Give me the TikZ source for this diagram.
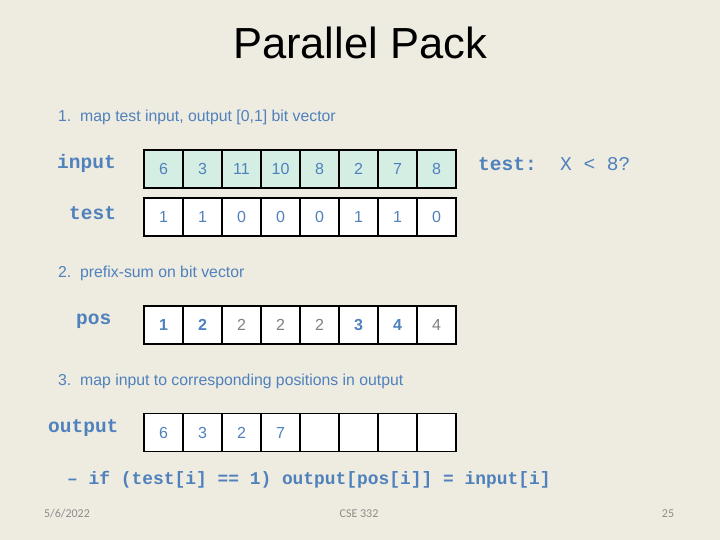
\documentclass[tikz,border=0pt]{standalone}
\usepackage{fontspec}
\setmainfont{Liberation Sans}
\setmonofont{Liberation Mono}
\newfontfamily\footfont{Carlito}
\definecolor{bg}{RGB}{238,235,224}
\definecolor{tblue}{RGB}{79,129,189}
\definecolor{cellgreen}{RGB}{213,238,227}
\definecolor{grayno}{RGB}{128,128,128}
\definecolor{footgray}{RGB}{140,140,140}
\tikzset{
  cell/.style={draw=black, line width=1.6pt, minimum width=39pt, minimum height=38pt, inner sep=0pt, font=\fontsize{16}{16}\selectfont, text=tblue},
  incell/.style={cell, fill=cellgreen},
  wcell/.style={cell, fill=white},
  steplabel/.style={anchor=west, inner sep=0pt, font=\fontsize{15.8}{16}\selectfont, text=tblue},
  rowlabel/.style={anchor=west, inner sep=0pt, font=\ttfamily\bfseries\fontsize{19.5}{20}\selectfont, text=tblue},
  footlabel/.style={inner sep=0pt, font=\footfont\fontsize{12}{12}\selectfont, text=footgray}
}
\begin{document}
\begin{tikzpicture}[x=1pt,y=-1pt]
\fill[bg] (0,0) rectangle (720,540);
\useasboundingbox (0,0) rectangle (720,540);
\node[inner sep=0pt, font=\fontsize{43.5}{44}\selectfont] (title) at (360,43) {Parallel Pack};
\node[steplabel] (s1) at (58,117) {1.\ \ map test input, output [0,1] bit vector};
\node[steplabel] (s2) at (58,273) {2.\ \ prefix-sum on bit vector};
\node[steplabel] (s3) at (58,381) {3.\ \ map input to corresponding positions in output};
\node[rowlabel] (linput) at (57,163) {input};
\node[rowlabel] (ltest) at (69,213) {test};
\node[rowlabel] (lpos) at (76,321) {pos};
\node[rowlabel] (loutput) at (48,428) {output};
\node[anchor=west, inner sep=0pt, text=tblue, font=\ttfamily\fontsize{19.5}{20}\selectfont] (cond) at (478,164) {\textbf{test:}\ \ X < 8?};
\foreach \v [count=\i from 0] in {6,3,11,10,8,2,7,8}
  \node[incell] (in\i) at (163.5+39*\i,169) {\v};
\foreach \v [count=\i from 0] in {1,1,0,0,0,1,1,0}
  \node[wcell] (t\i) at (163.5+39*\i,217) {\v};
\foreach \v/\c [count=\i from 0] in {1/tblue,2/tblue,2/grayno,2/grayno,2/grayno,3/tblue,4/tblue,4/grayno}
  \node[wcell, text=\c] (p\i) at (163.5+39*\i,325) {\ifnum\pdfstrcmp{\c}{tblue}=0 \textbf{\v}\else\v\fi};
\foreach \v [count=\i from 0] in {6,3,2,7,{},{},{},{}}
  \node[wcell] (o\i) at (163.5+39*\i,432.5) {\v};
\node[anchor=west, inner sep=0pt, text=tblue, font=\ttfamily\bfseries\fontsize{17.9}{18}\selectfont] (code) at (67,480) {\textendash\ if (test[i] == 1) output[pos[i]] = input[i]};
\node[footlabel] (date) at (67,514) {5/6/2022};
\node[footlabel] (course) at (359,514) {CSE 332};
\node[footlabel] (page) at (668,514) {25};
\end{tikzpicture}
\end{document}
